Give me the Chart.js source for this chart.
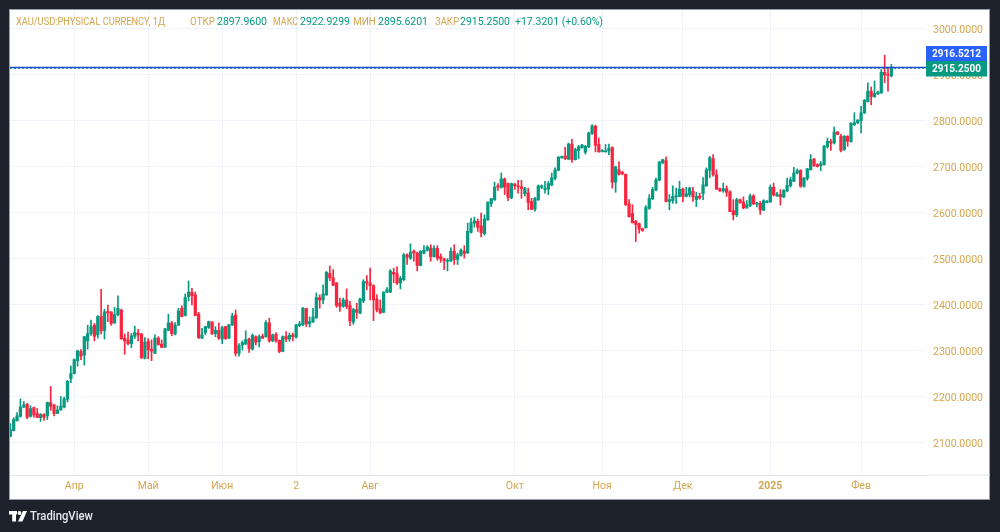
<!DOCTYPE html>
<html><head><meta charset="utf-8">
<style>html,body{margin:0;padding:0;background:#1e222d;overflow:hidden}canvas{display:block}</style>
<script src="https://cdn.jsdelivr.net/npm/chart.js@4"></script></head>
<body><canvas id="c" width="1000" height="532"></canvas>
<script>
const opens=[2115,2127,2148,2158,2178,2184,2158,2177,2164,2155,
2162,2159,2188,2183,2164,2172,2178,2195,2240,2251,
2279,2299,2291,2322,2338,2356,2335,2375,2344,2386,
2385,2361,2379,2389,2328,2324,2316,2332,2339,2337,
2284,2321,2304,2295,2328,2315,2308,2345,2361,2337,
2356,2393,2377,2418,2428,2422,2380,2328,2340,2351,
2363,2338,2345,2326,2353,2328,2356,2378,2295,
2313,2315,2326,2304,2331,2320,2332,2331,2361,2322,
2336,2323,2299,2332,2326,2335,2330,2355,2357,2392,
2359,2363,2372,2416,2411,2422,2469,2459,2448,2404,
2397,2411,2399,2363,2390,2382,2409,2451,2448,2442,
2413,2392,2384,2428,2428,2471,2468,2448,2455,2509,
2502,2517,2513,2486,2513,2519,2524,2505,2523,2505,
2500,2495,2496,2517,2499,2508,2517,2513,
2558,2578,2582,2572,2555,2585,2620,2629,2659,2656,
2674,2664,2633,2663,2659,2657,2642,2644,2625,2608,
2629,2656,2651,2652,2661,2675,2693,2720,2724,2717,
2750,2716,2736,2742,2732,2744,2773,2789,2749,2733,
2733,2735,2742,2667,2694,2688,2684,2620,2599,2582,
2577,2566,2568,2610,2631,2650,2671,2709,2714,2625,
2627,2635,2636,2652,2636,2640,2647,2629,2637,
2642,2659,2693,2718,2683,2653,2648,2653,2646,2605,
2596,2629,2624,2611,2616,2637,2619,2621,2606,2623,
2624,2656,2637,2640,2635,2648,2659,2669,2687,2693,
2658,2675,2694,2717,2705,2703,2705,2744,2756,2752,
2776,2767,2738,2767,2755,2792,2796,2801,2818,2842,
2865,2853,2859,2861,2906,2901,2897.96];
const closes=[2129,2151,2159,2178,2183,2156,2175,2161,2155,2162,
2156,2188,2180,2164,2172,2180,2196,2234,2251,2281,
2300,2289,2331,2338,2353,2332,2375,2344,2385,2383,
2360,2379,2393,2326,2322,2316,2333,2340,2335,2285,
2319,2303,2300,2328,2314,2308,2348,2361,2338,2356,
2387,2375,2416,2428,2420,2377,2329,2335,2353,2364,
2337,2345,2328,2351,2327,2357,2376,2295,2312,
2318,2325,2305,2334,2319,2331,2328,2362,2322,2335,
2322,2299,2331,2326,2334,2331,2357,2359,2393,2359,
2364,2374,2416,2411,2424,2471,2459,2443,2399,2397,
2411,2397,2365,2390,2384,2413,2451,2448,2442,2411,
2389,2383,2428,2433,2474,2467,2448,2458,2509,2504,
2515,2513,2486,2517,2519,2526,2505,2523,2502,2500,
2496,2497,2517,2499,2509,2519,2512,2560,
2579,2583,2569,2557,2587,2623,2631,2656,2656,2674,
2656,2634,2664,2659,2657,2653,2653,2623,2608,2632,
2659,2659,2654,2664,2676,2694,2721,2723,2718,2750,
2716,2738,2744,2748,2745,2774,2789,2747,2733,2736,
2734,2741,2667,2700,2684,2685,2618,2592,2579,2575,
2565,2562,2612,2632,2651,2672,2711,2716,2625,2629,
2636,2638,2652,2636,2642,2654,2635,2636,2633,
2661,2694,2720,2683,2652,2648,2653,2645,2603,2596,
2629,2623,2611,2618,2637,2620,2622,2607,2627,2626,
2656,2639,2641,2635,2649,2660,2672,2687,2692,2658,
2676,2696,2716,2703,2701,2707,2745,2756,2752,2776,
2771,2736,2767,2756,2795,2796,2802,2818,2845,2865,
2853,2860,2863,2906,2900,2899,2915.25];
const highs=[2142,2155,2166,2196,2190,2186,2181,2178,2175,2164,
2164,2189,2223,2183,2181,2201,2200,2236,2267,2283,
2302,2303,2332,2356,2367,2360,2377,2434,2391,2400,
2385,2395,2420,2391,2337,2341,2338,2354,2347,2338,
2329,2327,2324,2335,2331,2324,2349,2380,2364,2362,
2393,2398,2424,2452,2436,2428,2384,2349,2354,2365,
2364,2353,2361,2354,2354,2358,2382,2389,2316,
2322,2344,2328,2337,2333,2335,2337,2366,2371,2337,
2340,2324,2333,2342,2339,2339,2358,2364,2395,2393,
2374,2393,2426,2422,2444,2473,2485,2477,2449,2415,
2415,2435,2408,2393,2404,2415,2455,2464,2480,2444,
2422,2411,2429,2438,2477,2480,2483,2462,2512,2511,
2533,2520,2515,2518,2529,2529,2531,2529,2529,2511,
2502,2501,2524,2531,2513,2522,2529,2578,
2589,2591,2587,2600,2596,2625,2632,2667,2664,2687,
2676,2665,2665,2664,2671,2671,2656,2654,2632,2634,
2661,2661,2669,2669,2687,2698,2723,2724,2743,2752,
2760,2741,2747,2749,2747,2776,2792,2791,2763,2738,
2749,2750,2744,2702,2711,2691,2685,2629,2618,2584,
2578,2567,2616,2640,2656,2676,2712,2717,2722,2640,
2659,2654,2669,2654,2656,2656,2656,2645,2643,
2677,2698,2723,2727,2694,2654,2665,2659,2648,2629,
2632,2630,2635,2627,2641,2640,2623,2625,2629,2627,
2661,2665,2645,2651,2651,2676,2678,2699,2696,2694,
2677,2697,2727,2719,2707,2712,2747,2763,2760,2787,
2777,2771,2768,2768,2796,2818,2803,2832,2847,2883,
2874,2887,2865,2912,2943,2916,2922.93];
const lows=[2113,2126,2148,2156,2177,2153,2156,2156,2155,2147,
2149,2151,2171,2159,2164,2171,2176,2189,2231,2250,
2267,2281,2269,2304,2334,2322,2328,2337,2326,2364,
2356,2360,2376,2326,2293,2313,2307,2327,2322,2284,
2283,2283,2279,2294,2313,2307,2308,2344,2333,2335,
2356,2374,2376,2409,2400,2377,2327,2327,2335,2349,
2336,2331,2325,2316,2325,2327,2356,2289,2289,
2302,2314,2297,2302,2313,2309,2327,2330,2319,2320,
2319,2296,2298,2320,2321,2322,2328,2353,2355,2353,
2352,2362,2371,2393,2403,2421,2453,2442,2395,2386,
2395,2392,2355,2358,2371,2381,2405,2433,2411,2366,
2385,2381,2383,2427,2427,2448,2444,2435,2453,2488,
2499,2495,2474,2485,2511,2517,2495,2504,2497,2493,
2477,2474,2494,2488,2488,2506,2502,2512,
2556,2569,2560,2548,2552,2584,2614,2627,2649,2654,
2640,2627,2631,2651,2643,2632,2637,2607,2607,2604,
2627,2653,2643,2640,2659,2672,2692,2719,2716,2716,
2710,2715,2718,2741,2728,2742,2771,2733,2732,2733,
2732,2727,2654,2645,2682,2683,2616,2591,2578,2538,
2556,2560,2567,2608,2629,2648,2670,2707,2624,2607,
2621,2621,2635,2624,2635,2635,2625,2614,2630,
2629,2658,2677,2680,2651,2647,2645,2636,2603,2585,
2592,2621,2609,2610,2614,2618,2613,2597,2605,2622,
2623,2637,2636,2617,2633,2646,2656,2668,2685,2656,
2656,2671,2693,2701,2700,2692,2704,2741,2736,2750,
2770,2733,2736,2745,2754,2790,2794,2774,2816,2841,
2835,2851,2858,2860,2883,2865,2895.62];
const monthIndexes=[19,41,63,85,107,150,176,200,226,253];
const monthLabels=["Апр","Май","Июн","2","Авг","Окт","Ноя","Дек","2025","Фев"];
const priceTicks=[2100,2200,2300,2400,2500,2600,2700,2800,2900,3000];
const lastPrice=2915.25, midPrice=2916.5212;
const GREEN="#089981",RED="#f7253f",GOLD="#d2a64f",FONT="Roboto";
const xMin=-0.1,xMax=272.3;
const colors=opens.map((o,i)=>closes[i]>=o?GREEN:RED);

const chrome={id:"chrome",
 beforeDraw(ch){const c=ch.ctx;c.save();
  c.fillStyle="#1e222d";c.fillRect(0,0,1000,532);
  c.fillStyle="#fff";c.fillRect(9,9,981,491);
  c.strokeStyle="#9a9da6";c.lineWidth=1;c.strokeRect(9.5,9.5,980,490);
  c.restore();},
 afterDraw(ch){const c=ch.ctx,a=ch.chartArea;c.save();
  c.fillStyle="#e0e3eb";c.fillRect(a.right+1,a.bottom-0.5,63,1);
  c.textBaseline="middle";
  c.font="11px "+FONT;
  [["XAU/USD:PHYSICAL CURRENCY, 1Д",16,GOLD,149],["ОТКР",190,GOLD,25],["2897.9600",217,GREEN,50],["МАКС",273,GOLD,25],["2922.9299",300,GREEN,50],["МИН",353,GOLD,23],["2895.6201",378,GREEN,50],["ЗАКР",435,GOLD,24],["2915.2500",460,GREEN,50],["+17.3201 (+0.60%)",515,GREEN,88]]
   .forEach(([t,x,col,w])=>{c.fillStyle=col;c.fillText(t,x,22,w);});
  c.fillStyle="#2962ff";c.fillRect(926,46,61,15);
  c.fillStyle=GREEN;c.fillRect(926,61,61,15.5);
  c.fillStyle="#fff";c.font="bold 11px "+FONT;
  c.fillText(midPrice.toFixed(4),932,54,49);
  c.fillText(lastPrice.toFixed(4),932,69,49);
  c.fillStyle="#fff";c.beginPath();
  c.rect(9,511,8,3.4);c.rect(12.2,511,3.8,10.5);c.fill();
  c.beginPath();c.arc(19.5,513,1.9,0,7);c.fill();
  c.beginPath();c.moveTo(23,511);c.lineTo(27,511);c.lineTo(22.5,521.5);c.lineTo(18,521.5);c.closePath();c.fill();
  c.fillStyle="#e6e7ea";c.font="500 12.5px "+FONT;c.fillText("TradingView",30,516.5,63);
  c.restore();}
};

new Chart(document.getElementById("c"),{
 plugins:[chrome],
 data:{datasets:[
  {type:"line",order:0,data:[{x:xMin,y:lastPrice},{x:xMax,y:lastPrice}],borderColor:GREEN,borderWidth:1.5,borderDash:[2,2],pointRadius:0},
  {type:"line",order:-1,data:[{x:xMin,y:midPrice},{x:xMax,y:midPrice}],borderColor:"#1848cc",borderWidth:1.5,pointRadius:0},
  {type:"bar",order:1,grouped:false,data:opens.map((o,i)=>({x:i,y:[o,closes[i]]})),backgroundColor:colors,barThickness:2.6,minBarLength:1},
  {type:"bar",order:2,grouped:false,data:lows.map((l,i)=>({x:i,y:[l,highs[i]]})),backgroundColor:colors,barThickness:1}
 ]},
 options:{responsive:false,animation:false,devicePixelRatio:1,
  layout:{padding:{left:10,top:10,right:10,bottom:32}},
  plugins:{legend:{display:false},tooltip:{enabled:false},title:{display:false}},
  scales:{
   x:{type:"linear",min:xMin,max:xMax,offset:false,
    afterBuildTicks(s){s.ticks=monthIndexes.map(v=>({value:v}));},
    afterFit(s){s.height=25;s.paddingLeft=0;s.paddingRight=0;},
    grid:{color:"#f0f3fa",drawTicks:false,offset:false},
    border:{display:true,color:"#e0e3eb"},
    ticks:{autoSkip:false,maxRotation:0,padding:5,color:GOLD,
     callback:(v)=>monthLabels[monthIndexes.indexOf(v)],
     font:(ctx)=>({family:FONT,size:10.5,weight:ctx.tick&&ctx.tick.label==="2025"?"bold":"normal"})}},
   y:{position:"right",min:2030.4,max:3041.3,
    afterBuildTicks(s){s.ticks=priceTicks.map(v=>({value:v}));},
    afterFit(s){s.width=64;s.paddingTop=0;s.paddingBottom=0;},
    grid:{color:"#f0f3fa",drawTicks:false},
    border:{display:false},
    ticks:{padding:7,labelOffset:1,color:GOLD,font:{family:FONT,size:10.5},callback:v=>Number(v).toFixed(4)}}
  }}
});
</script></body></html>
